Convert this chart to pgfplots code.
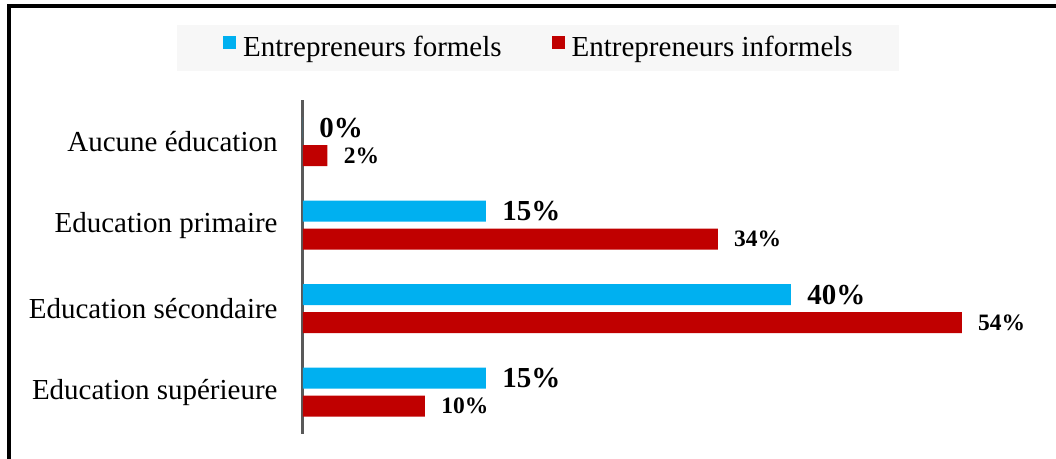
\documentclass[border=0pt]{standalone}
\usepackage{pgfplots}
\pgfplotsset{compat=1.18}
\usepackage{fontspec}
\setmainfont{Liberation Serif}

\definecolor{formel}{HTML}{00B0F0}
\definecolor{informel}{HTML}{C00000}
\definecolor{axisgray}{HTML}{595959}
\definecolor{legfill}{HTML}{F7F7F7}

\newcommand{\catfont}{\fontsize{14.5}{16}\selectfont}

\begin{document}
\begin{tikzpicture}
    % page = 1056 x 459 px, 1px = 0.5pt
    \useasboundingbox (0,0) rectangle (528pt,229.5pt);
    \draw[line width=2pt] (4.25pt,0) -- (4.25pt,226.5pt) -- (528pt,226.5pt);

    \begin{axis}[
        at={(151.5pt,12.5pt)},
        anchor=south west,
        scale only axis,
        width=366pt,
        height=167pt,
        xbar,
        bar width=10.5pt,
        xmin=0, xmax=60,
        ymin=-0.5, ymax=3.5,
        axis x line=none,
        axis y line*=left,
        y axis line style={draw=axisgray, line width=1.5pt, -},
        ytick={0,1,2,3},
        yticklabels={Education supérieure, Education sécondaire, Education primaire, Aucune éducation},
        major tick length=0pt,
        yticklabel style={font=\catfont, inner sep=0pt, xshift=-12.5pt},
        /pgf/number format/assume math mode=true,
        nodes near coords={\pgfmathprintnumber{\pgfplotspointmeta}\%},
        nodes near coords style={anchor=west, inner sep=0pt, xshift=8pt, font=\bfseries\catfont},
        legend columns=2,
        legend cell align=left,
        legend style={
            at={(0.321,1.156)}, anchor=center,
            fill=legfill, draw=none,
            inner xsep=23pt, inner ysep=5.5pt,
            nodes={inner sep=0pt, font=\catfont},
            /tikz/every odd column/.append style={column sep=3.5pt},
            /tikz/every even column/.append style={column sep=25pt},
        },
    ]
        \addplot[fill=formel, draw=none, bar shift=7pt,
            legend image code/.code={\fill[formel] (0pt,-0.8pt) rectangle (6.5pt,5.7pt);}]
            coordinates {(15,0) (40,1) (15,2) (0,3)};
        \addlegendentry{Entrepreneurs formels}

        \addplot[fill=informel, draw=none, bar shift=-7pt,
            nodes near coords style={font=\bfseries\fontsize{11.75}{13}\selectfont},
            legend image code/.code={\fill[informel] (0pt,-0.8pt) rectangle (6.5pt,5.7pt);}]
            coordinates {(10,0) (54,1) (34,2) (2,3)};
        \addlegendentry{Entrepreneurs informels}
    \end{axis}
\end{tikzpicture}
\end{document}
